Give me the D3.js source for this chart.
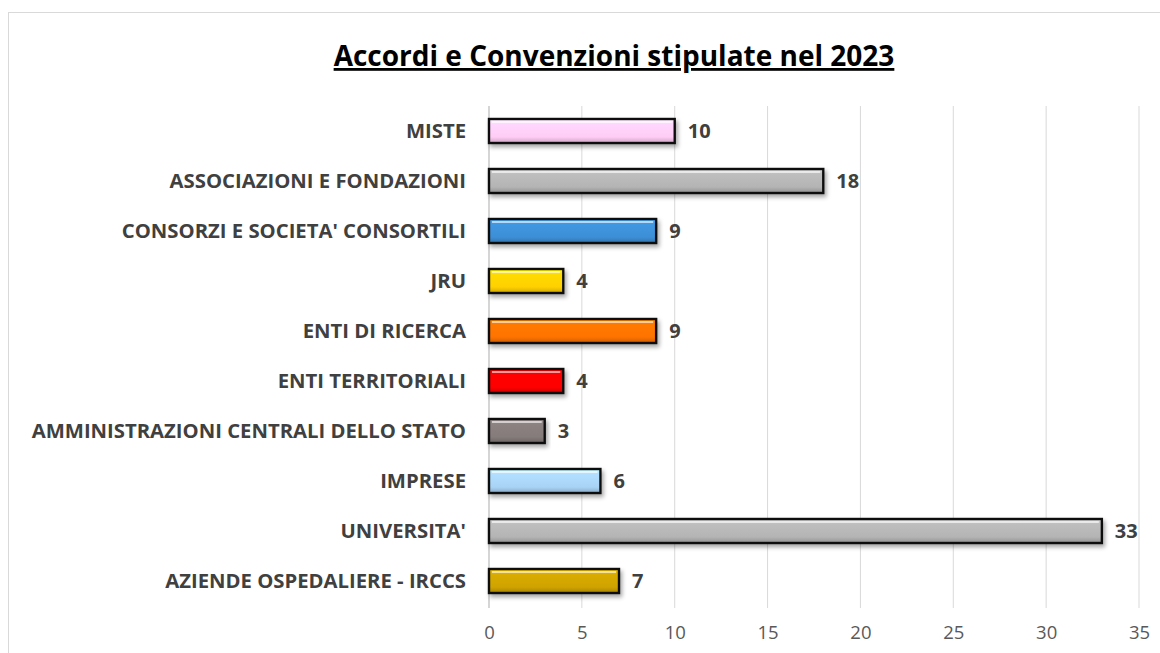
<!DOCTYPE html>
<head>
  <meta charset="utf-8">
</head>
<style>
body { margin: 0; background: #fff; }
.cat { font-family: "Open Sans", sans-serif; font-weight: bold; font-size: 20.3px; fill: #404040; }
.val { font-family: "Open Sans", sans-serif; font-weight: bold; font-size: 20px; fill: #404040; }
.tick text { font-family: "Open Sans", sans-serif; font-size: 18.5px; fill: #595959; }
</style>
<body>
<script src="https://d3js.org/d3.v7.min.js"></script>
<script>
var categories = ["MISTE", "ASSOCIAZIONI E FONDAZIONI", "CONSORZI E SOCIETA' CONSORTILI", "JRU",
  "ENTI DI RICERCA", "ENTI TERRITORIALI", "AMMINISTRAZIONI CENTRALI DELLO STATO", "IMPRESE",
  "UNIVERSITA'", "AZIENDE OSPEDALIERE - IRCCS"];
var values = [10, 18, 9, 4, 9, 4, 3, 6, 33, 7];
var colors = ["#ffccf4", "#b4b4b4", "#3d8fd6", "#ffd000", "#ff7300", "#ff0000", "#857b7b", "#a9d3f5", "#b4b4b4", "#cfa300"];
var ticks = [0, 5, 10, 15, 20, 25, 30, 35];

var width = 1160, height = 653;
var svg = d3.select("body").append("svg")
  .attr("width", width)
  .attr("height", height);

var defs = svg.append("defs");
colors.forEach(function(c, i) {
  var g = defs.append("linearGradient").attr("id", "grad" + i)
    .attr("x1", 0).attr("y1", 0).attr("x2", 0).attr("y2", 1);
  var base = d3.rgb(c);
  g.append("stop").attr("offset", "0%").attr("stop-color", base.brighter(0.5));
  g.append("stop").attr("offset", "20%").attr("stop-color", base.brighter(0.15));
  g.append("stop").attr("offset", "75%").attr("stop-color", base);
  g.append("stop").attr("offset", "100%").attr("stop-color", base.darker(0.6));
});
var sh = defs.append("filter").attr("id", "shadow").attr("x", "-5%").attr("y", "-30%").attr("width", "115%").attr("height", "170%");
sh.append("feDropShadow").attr("dx", 2).attr("dy", 3).attr("stdDeviation", 2).attr("flood-color", "#000").attr("flood-opacity", 0.35);

// chart border
svg.append("rect")
  .attr("x", 8.5).attr("y", 12.5)
  .attr("width", 1170).attr("height", 700)
  .attr("fill", "none").attr("stroke", "#d9d9d9");

svg.append("text")
  .attr("x", 614).attr("y", 66)
  .attr("text-anchor", "middle")
  .attr("font-family", "Open Sans, sans-serif")
  .attr("font-weight", "bold")
  .attr("font-size", 28)
  .attr("text-decoration", "underline")
  .attr("fill", "#000")
  .text("Accordi e Convenzioni stipulate nel 2023");

var x = d3.scaleLinear().domain([0, 35]).range([489, 1139]);
var y = d3.scaleBand().domain(categories).range([106, 606]).paddingInner(0.52).paddingOuter(0.26);

var grid = svg.append("g");
grid.selectAll("line")
  .data(ticks)
  .enter().append("line")
  .attr("x1", function(d) { return x(d); })
  .attr("x2", function(d) { return x(d); })
  .attr("y1", 106).attr("y2", 608)
  .attr("stroke", "#d9d9d9").attr("stroke-width", 1);

var xAxis = svg.append("g")
  .attr("transform", "translate(0,608)")
  .call(d3.axisBottom(x).tickValues(ticks).tickSize(0).tickPadding(18));
xAxis.select(".domain").remove();

svg.append("line")
  .attr("x1", x(0)).attr("x2", x(0))
  .attr("y1", 106).attr("y2", 608)
  .attr("stroke", "#bfbfbf");

var bars = svg.append("g");
bars.selectAll("rect")
  .data(values)
  .enter().append("rect")
  .attr("x", x(0))
  .attr("y", function(d, i) { return y(categories[i]); })
  .attr("width", function(d) { return x(d) - x(0); })
  .attr("height", y.bandwidth())
  .attr("fill", function(d, i) { return "url(#grad" + i + ")"; })
  .attr("stroke", "#111")
  .attr("stroke-width", 2.4)
  .attr("filter", "url(#shadow)");

// bevel highlights
bars.selectAll("line.hl")
  .data(values)
  .enter().append("line")
  .attr("class", "hl")
  .attr("x1", x(0) + 3)
  .attr("x2", function(d) { return x(d) - 3; })
  .attr("y1", function(d, i) { return y(categories[i]) + 3; })
  .attr("y2", function(d, i) { return y(categories[i]) + 3; })
  .attr("stroke", "#fff").attr("stroke-opacity", 0.6).attr("stroke-width", 2);

svg.selectAll(".cat")
  .data(categories)
  .enter().append("text")
  .attr("class", "cat")
  .attr("x", 466)
  .attr("y", function(d) { return y(d) + y.bandwidth() / 2; })
  .attr("dy", "0.35em")
  .attr("text-anchor", "end")
  .text(function(d) { return d; });

svg.selectAll(".val")
  .data(values)
  .enter().append("text")
  .attr("class", "val")
  .attr("x", function(d) { return x(d) + 13; })
  .attr("y", function(d, i) { return y(categories[i]) + y.bandwidth() / 2; })
  .attr("dy", "0.35em")
  .text(function(d) { return d; });
</script>
</body>
